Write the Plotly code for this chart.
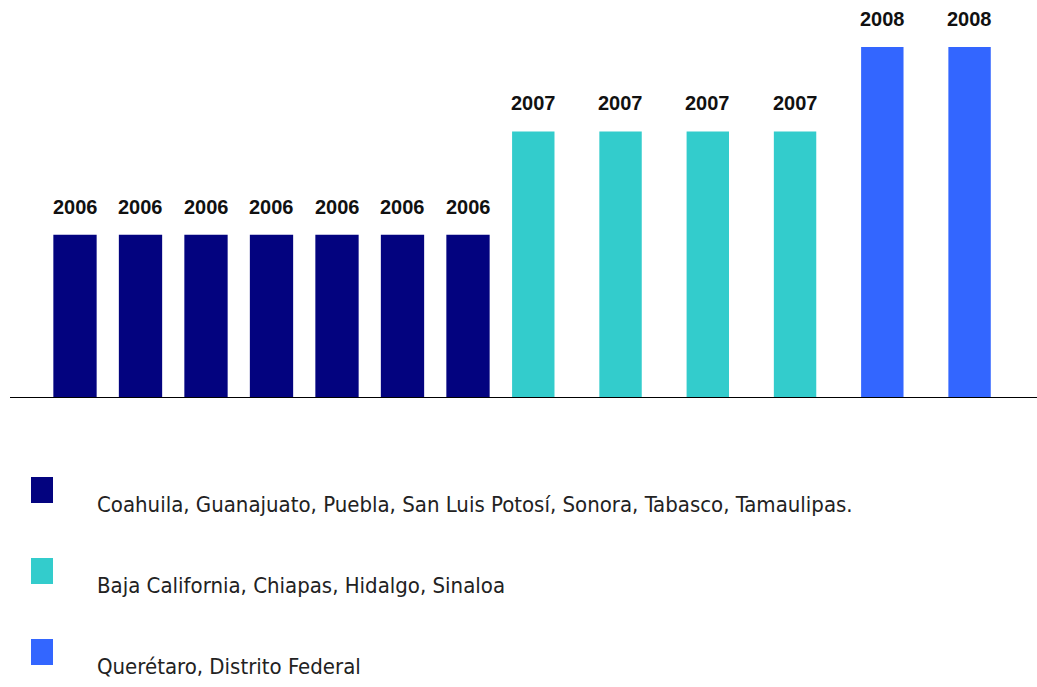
import plotly.graph_objects as go

# ---- data ----
states_2006 = ["Coahuila", "Guanajuato", "Puebla", "San Luis Potosí", "Sonora", "Tabasco", "Tamaulipas"]
states_2007 = ["Baja California", "Chiapas", "Hidalgo", "Sinaloa"]
states_2008 = ["Querétaro", "Distrito Federal"]
value_2006 = 3.0
value_2007 = 4.9
value_2008 = 6.45
year_labels = ["2006", "2007", "2008"]
legend_labels = [
    "Coahuila, Guanajuato, Puebla, San Luis Potosí, Sonora, Tabasco, Tamaulipas.",
    "Baja California, Chiapas, Hidalgo, Sinaloa",
    "Querétaro, Distrito Federal",
]
colors = ["#03037f", "#33cccc", "#3366ff"]

W, H = 1037, 687
BASE = 398  # pixel row of the baseline
YMAX = 398 / 54.4


def py(p):
    """pixel row -> paper y"""
    return (BASE - p) / BASE


def px(p):
    return p / W


fig = go.Figure()

groups = [
    (states_2006, value_2006, colors[0], "x", 0.661),
    (states_2007, value_2007, colors[1], "x2", 0.486),
    (states_2008, value_2008, colors[2], "x2", 0.486),
]

annotations = []
for i, (cats, val, col, xa, w) in enumerate(groups):
    vals = [val] * len(cats)
    fig.add_trace(go.Bar(
        x=cats, y=vals, marker=dict(color=col, line=dict(width=0)),
        width=w, xaxis=xa, yaxis="y", showlegend=False, hoverinfo="x+y",
    ))
    for c, v in zip(cats, vals):
        annotations.append(dict(
            x=c, y=v, xref=xa, yref="y", text="<b>" + year_labels[i] + "</b>", showarrow=False,
            yanchor="bottom", yshift=15,
            font=dict(family="Liberation Sans, Arial, sans-serif", size=20, color="#111111"),
        ))

# legend (custom, below chart)
leg_tops = [477, 558, 639]
shapes = []
for i, lab in enumerate(legend_labels):
    t = leg_tops[i]
    shapes.append(dict(type="rect", xref="paper", yref="paper",
                       x0=px(31), x1=px(53), y0=py(t + 26), y1=py(t),
                       fillcolor=colors[i], line=dict(width=0)))
    annotations.append(dict(
        x=px(95), y=py(t + 27), xref="paper", yref="paper", text=lab,
        showarrow=False, xanchor="left", yanchor="middle",
        font=dict(family="DejaVu Sans Condensed, sans-serif", size=22, color="#222222"),
    ))

# baseline
shapes.append(dict(type="line", xref="paper", yref="y", x0=px(10), x1=1.0,
                   y0=0, y1=0, line=dict(color="#000000", width=2)))

n1 = len(states_2006)
n2 = len(states_2007) + len(states_2008)
fig.update_layout(
    width=W, height=H,
    margin=dict(l=0, r=0, t=0, b=H - BASE),
    paper_bgcolor="white", plot_bgcolor="white",
    xaxis=dict(domain=[px(42.25), px(500.75)], range=[-0.5, n1 - 0.5],
               showticklabels=False, showgrid=False, zeroline=False, showline=False, ticks=""),
    xaxis2=dict(domain=[px(501), px(1013.2)], range=[-0.37, n2 - 0.5], anchor="y",
                showticklabels=False, showgrid=False, zeroline=False, showline=False, ticks=""),
    yaxis=dict(range=[0, YMAX], visible=False, showgrid=False, zeroline=False),
    shapes=shapes,
    annotations=annotations,
    showlegend=False,
)

fig.write_html("out.html")
